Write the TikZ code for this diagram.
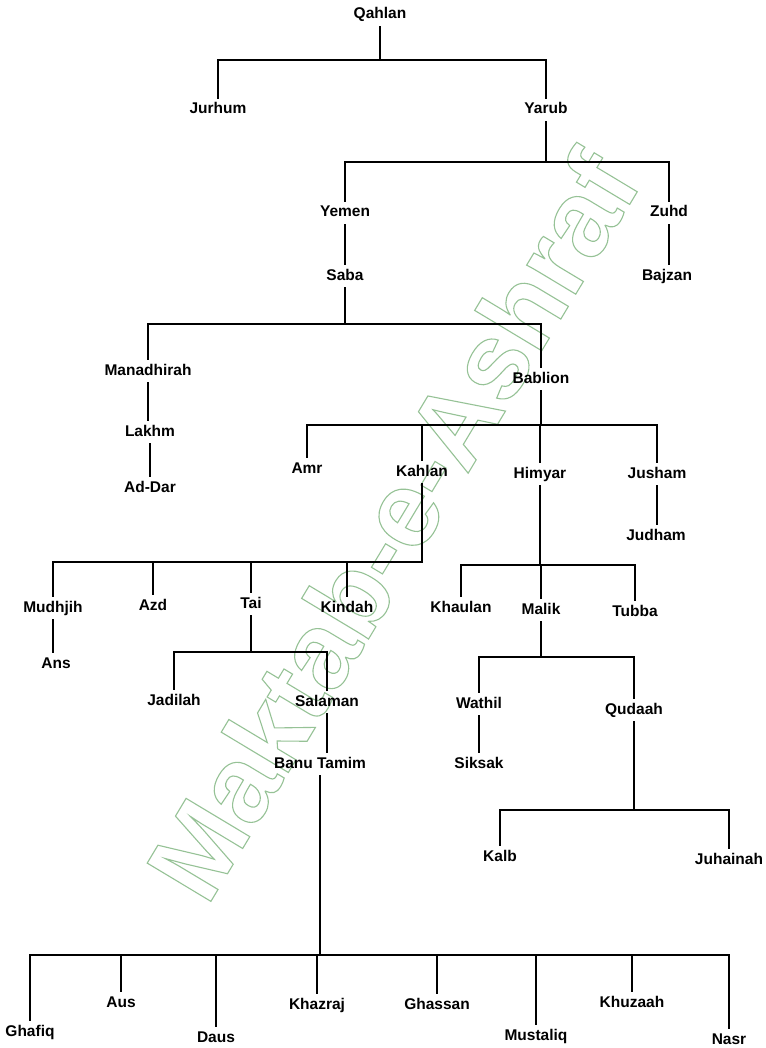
\documentclass[tikz,border=0pt]{standalone}
\usepackage{fontspec}
\setmainfont{Liberation Sans}
\definecolor{wm}{RGB}{150,195,150}
\tikzset{
  lbl/.style={font=\fontsize{15.5}{17}\selectfont\bfseries, text height=11pt, text depth=3pt, inner xsep=1pt, inner ysep=4.5pt},
  link/.style={line width=2.2pt, line cap=rect, black}
}
\newcommand\famtree[5]{%
  \draw[link] (#1.south) -- (#1.south |- 0,#2);
  \draw[link] (#3.north |- 0,#2) -- (#4.north |- 0,#2);
  \foreach \c in {#5} {\draw[link] (\c.north) -- (\c.north |- 0,#2);}
}
\newcommand\onelink[2]{\draw[link] (#1.south) -- (#1.south |- #2.north);}
\newcommand\outlinetext[1]{\special{pdf:literal q 0.59 0.76 0.59 RG 1.1 w 1 Tr}#1\special{pdf:literal 0 Tr Q}}
\begin{document}
\begin{tikzpicture}[x=1pt,y=-1pt]
\useasboundingbox (0,0) rectangle (765,1048);
\fill[white] (0,0) rectangle (765,1048);
% watermark
\node[rotate=59, inner sep=0pt] (wmark) at (392,525)
  {\fontsize{108}{108}\selectfont\bfseries\outlinetext{Maktab-e-Ashraf}};
% nodes
\node[lbl] (Qahlan) at (380,15) {Qahlan};
\node[lbl] (Jurhum) at (218,110) {Jurhum};
\node[lbl] (Yarub) at (546,110) {Yarub};
\node[lbl] (Yemen) at (345,213) {Yemen};
\node[lbl] (Zuhd) at (669,213) {Zuhd};
\node[lbl] (Bajzan) at (667,276) {Bajzan};
\node[lbl] (Saba) at (345,276) {Saba};
\node[lbl] (Manadhirah) at (148,371) {Manadhirah};
\node[lbl] (Bablion) at (541,379) {Bablion};
\node[lbl] (Lakhm) at (150,432) {Lakhm};
\node[lbl] (AdDar) at (150,488) {Ad-Dar};
\node[lbl] (Amr) at (307,469) {Amr};
\node[lbl] (Kahlan) at (422,472) {Kahlan};
\node[lbl] (Himyar) at (540,474) {Himyar};
\node[lbl] (Jusham) at (657,474) {Jusham};
\node[lbl] (Judham) at (656,536) {Judham};
\node[lbl] (Mudhjih) at (53,608) {Mudhjih};
\node[lbl] (Azd) at (153,606) {Azd};
\node[lbl] (Tai) at (251,604) {Tai};
\node[lbl] (Kindah) at (347,608) {Kindah};
\node[lbl] (Ans) at (56,664) {Ans};
\node[lbl] (Khaulan) at (461,608) {Khaulan};
\node[lbl] (Malik) at (541,610) {Malik};
\node[lbl] (Tubba) at (635,612) {Tubba};
\node[lbl] (Jadilah) at (174,701) {Jadilah};
\node[lbl] (Salaman) at (327,702) {Salaman};
\node[lbl] (Wathil) at (479,704) {Wathil};
\node[lbl] (Qudaah) at (634,710) {Qudaah};
\node[lbl] (BanuTamim) at (320,764) {Banu Tamim};
\node[lbl] (Siksak) at (479,764) {Siksak};
\node[lbl] (Kalb) at (500,857) {Kalb};
\node[lbl] (Juhainah) at (729,860) {Juhainah};
\node[lbl] (Ghafiq) at (30,1032) {Ghafiq};
\node[lbl] (Aus) at (121,1003) {Aus};
\node[lbl] (Daus) at (216,1038) {Daus};
\node[lbl] (Khazraj) at (317,1005) {Khazraj};
\node[lbl] (Ghassan) at (437,1005) {Ghassan};
\node[lbl] (Mustaliq) at (536,1036) {Mustaliq};
\node[lbl] (Khuzaah) at (632,1003) {Khuzaah};
\node[lbl] (Nasr) at (729,1040) {Nasr};
% family trees
\famtree{Qahlan}{60}{Jurhum}{Yarub}{Jurhum,Yarub}
\famtree{Yarub}{162}{Yemen}{Zuhd}{Yemen,Zuhd}
\famtree{Saba}{324}{Manadhirah}{Bablion}{Manadhirah,Bablion}
\famtree{Bablion}{425}{Amr}{Jusham}{Amr,Kahlan,Himyar,Jusham}
\famtree{Kahlan}{562}{Mudhjih}{Kahlan}{Mudhjih,Azd,Tai,Kindah}
\famtree{Himyar}{565}{Khaulan}{Tubba}{Khaulan,Malik,Tubba}
\famtree{Tai}{652}{Jadilah}{Salaman}{Jadilah,Salaman}
\famtree{Malik}{657}{Wathil}{Qudaah}{Wathil,Qudaah}
\famtree{Qudaah}{810}{Kalb}{Juhainah}{Kalb,Juhainah}
\famtree{BanuTamim}{955}{Ghafiq}{Nasr}{Ghafiq,Aus,Daus,Khazraj,Ghassan,Mustaliq,Khuzaah,Nasr}
% single links
\onelink{Yemen}{Saba}
\onelink{Zuhd}{Bajzan}
\onelink{Manadhirah}{Lakhm}
\onelink{Lakhm}{AdDar}
\onelink{Jusham}{Judham}
\onelink{Mudhjih}{Ans}
\onelink{Wathil}{Siksak}
\onelink{Salaman}{BanuTamim}
\end{tikzpicture}
\end{document}
